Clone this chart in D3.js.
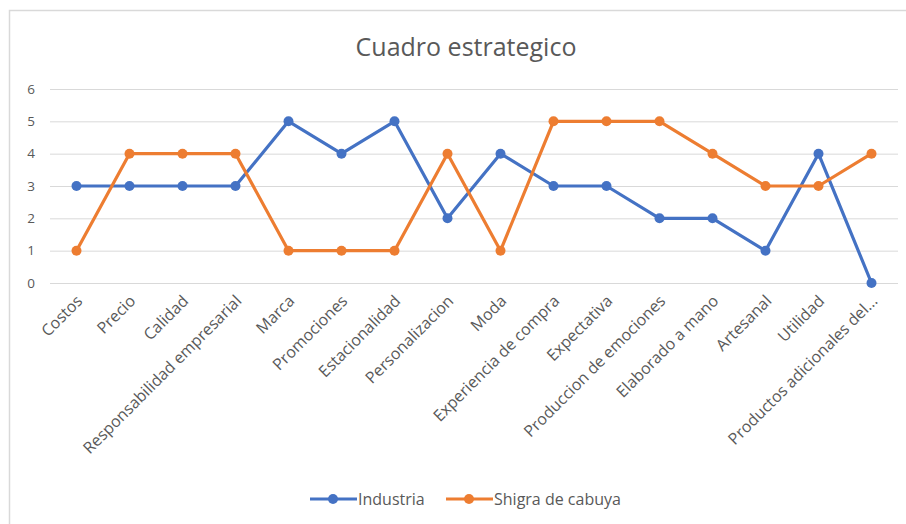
<!DOCTYPE html>
<html>
<head>
<meta charset="utf-8">
<script src="https://d3js.org/d3.v7.min.js"></script>
<style>
  body { margin: 0; background: #fff; }
  text { font-family: "Open Sans", "DejaVu Sans", sans-serif; }
</style>
</head>
<body>
<div id="chart"></div>
<script>
// categories and values
var categories = ["Costos", "Precio", "Calidad", "Responsabilidad empresarial", "Marca",
  "Promociones", "Estacionalidad", "Personalizacion", "Moda", "Experiencia de compra",
  "Expectativa", "Produccion de emociones", "Elaborado a mano", "Artesanal", "Utilidad",
  "Productos adicionales del..."];
var industria = [3, 3, 3, 3, 5, 4, 5, 2, 4, 3, 3, 2, 2, 1, 4, 0];
var shigra = [1, 4, 4, 4, 1, 1, 1, 4, 1, 5, 5, 5, 4, 3, 3, 4];
var yTicks = [0, 1, 2, 3, 4, 5, 6];

var series = [
  {name: "Industria", values: industria, color: "#4472C4"},
  {name: "Shigra de cabuya", values: shigra, color: "#ED7D31"}
];

var width = 906, height = 524;
var svg = d3.select("#chart").append("svg")
  .attr("width", width).attr("height", height);

// chart frame
svg.append("rect")
  .attr("x", 9.5).attr("y", 10.5)
  .attr("width", width).attr("height", height)
  .attr("fill", "#fff").attr("stroke", "#d9d9d9").attr("stroke-width", 1.5);

var x = d3.scaleBand().domain(categories).range([50, 898]);
var y = d3.scaleLinear().domain([0, 6]).range([283, 89]);

svg.append("text")
  .attr("x", 466).attr("y", 56)
  .attr("text-anchor", "middle")
  .attr("font-size", 25)
  .attr("fill", "#595959")
  .text("Cuadro estrategico");

// gridlines
svg.append("g").selectAll("line")
  .data(yTicks)
  .enter().append("line")
  .attr("x1", 50).attr("x2", 898)
  .attr("y1", function(d) { return y(d) + 0.5; })
  .attr("y2", function(d) { return y(d) + 0.5; })
  .attr("stroke", "#d9d9d9").attr("stroke-width", 1);

// y axis labels
var yAxis = svg.append("g")
  .attr("transform", "translate(35,0)")
  .call(d3.axisLeft(y).tickValues(yTicks).tickFormat(d3.format("d")).tickSize(0).tickPadding(0));
yAxis.select(".domain").remove();
yAxis.selectAll("text")
  .attr("font-size", 13.5).attr("fill", "#595959")
  .style("font-family", "'Open Sans', sans-serif");

// x axis labels
var xAxis = svg.append("g")
  .attr("transform", "translate(0,283)")
  .call(d3.axisBottom(x).tickSize(0).tickPadding(0));
xAxis.select(".domain").remove();
xAxis.selectAll("text")
  .attr("font-size", 16).attr("fill", "#595959")
  .style("font-family", "'Open Sans', sans-serif")
  .attr("text-anchor", "end")
  .attr("dy", null).attr("y", 0)
  .attr("transform", "translate(7,19) rotate(-45)");

var line = d3.line()
  .x(function(d, i) { return x(categories[i]) + x.bandwidth() / 2; })
  .y(function(d) { return y(d); });

series.forEach(function(s) {
  var g = svg.append("g");
  g.append("path")
    .datum(s.values)
    .attr("fill", "none")
    .attr("stroke", s.color)
    .attr("stroke-width", 3.2)
    .attr("stroke-linejoin", "round")
    .attr("stroke-linecap", "round")
    .attr("d", line);
  g.selectAll("circle")
    .data(s.values)
    .enter().append("circle")
    .attr("cx", function(d, i) { return x(categories[i]) + x.bandwidth() / 2; })
    .attr("cy", function(d) { return y(d); })
    .attr("r", 5)
    .attr("fill", s.color);
});

// legend
var legendX = [310, 446];
var legend = svg.append("g").selectAll("g")
  .data(series)
  .enter().append("g")
  .attr("transform", function(d, i) { return "translate(" + legendX[i] + ",499)"; });
legend.append("line")
  .attr("x1", 0).attr("x2", 47)
  .attr("stroke", function(d) { return d.color; })
  .attr("stroke-width", 3.2);
legend.append("circle")
  .attr("cx", 23).attr("r", 5)
  .attr("fill", function(d) { return d.color; });
legend.append("text")
  .attr("x", 48).attr("dy", "0.35em")
  .attr("font-size", 16).attr("fill", "#595959")
  .text(function(d) { return d.name; });
</script>
</body>
</html>
